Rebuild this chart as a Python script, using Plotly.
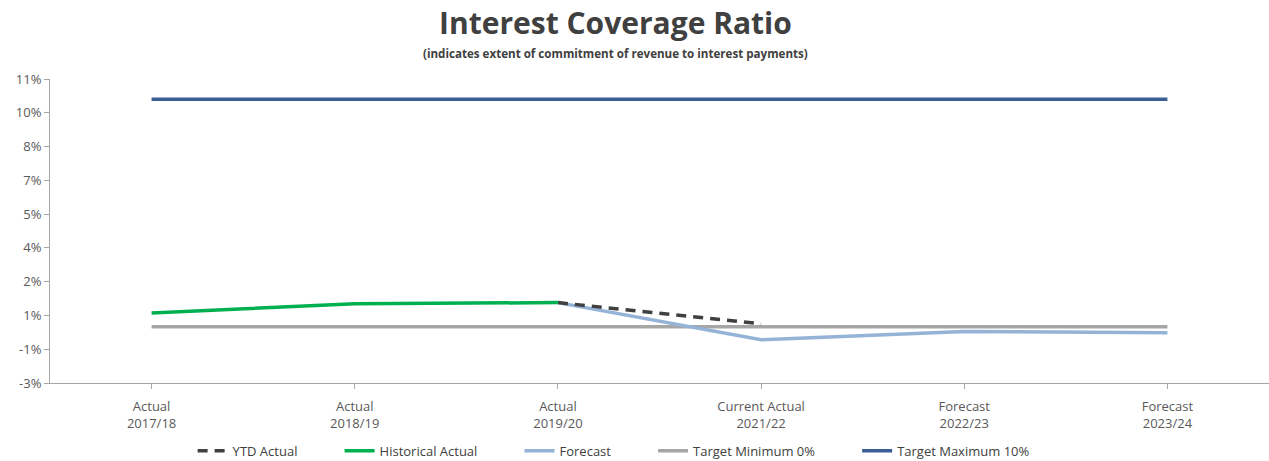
import plotly.graph_objects as go

categories = [
    "Actual<br>2017/18",
    "Actual<br>2018/19",
    "Actual<br>2019/20",
    "Current Actual<br>2021/22",
    "Forecast<br>2022/23",
    "Forecast<br>2023/24",
]
ytd_actual = [None, None, 0.0107, 0.0013, None, None]
historical_actual = [0.0061, 0.0102, 0.0107, None, None, None]
forecast = [None, None, 0.0107, -0.0058, -0.0021, -0.0027]
target_min = [0.0, 0.0, 0.0, 0.0, 0.0, 0.0]
target_max = [0.101, 0.101, 0.101, 0.101, 0.101, 0.101]

y_tickvals = [-0.025, -0.01, 0.005, 0.02, 0.035, 0.05, 0.065, 0.08, 0.095, 0.11]
y_ticktext = ["-3%", "-1%", "1%", "2%", "4%", "5%", "7%", "8%", "10%", "11%"]

FONT = "Open Sans, sans-serif"
PAD = "\u00a0" * 11  # spacing between legend entries
x_idx = list(range(len(categories)))

fig = go.Figure()
fig.add_trace(go.Scatter(x=x_idx, y=target_min, mode="lines", name="Target Minimum 0%" + PAD,
                         line={"color": "#A6A6A6", "width": 3.5}, legendrank=4))
fig.add_trace(go.Scatter(x=x_idx, y=target_max, mode="lines", name="Target Maximum 10%",
                         line={"color": "#3A5F96", "width": 3.5}, legendrank=5))
fig.add_trace(go.Scatter(x=x_idx, y=forecast, mode="lines", name="Forecast" + PAD,
                         line={"color": "#95B3D7", "width": 3.5}, legendrank=3))
fig.add_trace(go.Scatter(x=x_idx, y=ytd_actual, mode="lines", name="YTD Actual" + PAD,
                         line={"color": "#404040", "width": 3.5, "dash": "10px,7px"}, legendrank=1))
fig.add_trace(go.Scatter(x=x_idx, y=historical_actual, mode="lines", name="Historical Actual" + PAD,
                         line={"color": "#00B050", "width": 3.5}, legendrank=2))

fig.add_annotation(text="<b>Interest Coverage Ratio</b>", xref="paper", yref="paper",
                   x=0.4635, y=1 + 57 / 304, xanchor="center", yanchor="middle", showarrow=False,
                   font={"family": FONT, "size": 30, "color": "#404040"})
fig.add_annotation(text="<b>(indicates extent of commitment of revenue to interest payments)</b>",
                   xref="paper", yref="paper", x=0.4635, y=1 + 26 / 304, xanchor="center",
                   yanchor="middle", showarrow=False,
                   font={"family": FONT, "size": 11.6, "color": "#404040"})

fig.update_layout(
    width=1269,
    height=461,
    paper_bgcolor="white",
    plot_bgcolor="white",
    margin={"l": 50, "r": 0, "t": 79, "b": 78, "autoexpand": False},
    font={"family": FONT, "size": 13, "color": "#595959"},
    showlegend=True,
    legend={
        "orientation": "h",
        "x": 0.117,
        "xanchor": "left",
        "y": -0.174,
        "yanchor": "top",
        "font": {"size": 13, "color": "#404040"},
        "traceorder": "normal",
    },
    xaxis={
        "range": [-0.5, 5.5],
        "tickvals": x_idx,
        "ticktext": categories,
        "showgrid": False,
        "showline": True,
        "linecolor": "#A6A6A6",
        "linewidth": 1,
        "ticks": "outside",
        "ticklen": 5,
        "tickcolor": "#A6A6A6",
        "ticklabelstandoff": 6,
        "zeroline": False,
        "tickfont": {"size": 13, "color": "#595959"},
    },
    yaxis={
        "range": [-0.025, 0.11],
        "tickvals": y_tickvals,
        "ticktext": y_ticktext,
        "showgrid": False,
        "showline": True,
        "linecolor": "#A6A6A6",
        "linewidth": 1,
        "ticks": "outside",
        "ticklen": 5,
        "tickcolor": "#A6A6A6",
        "zeroline": False,
        "tickfont": {"size": 13, "color": "#595959"},
    },
)

fig.write_html("out.html", config={"displayModeBar": False},
               post_script="document.body.style.margin='0';")
